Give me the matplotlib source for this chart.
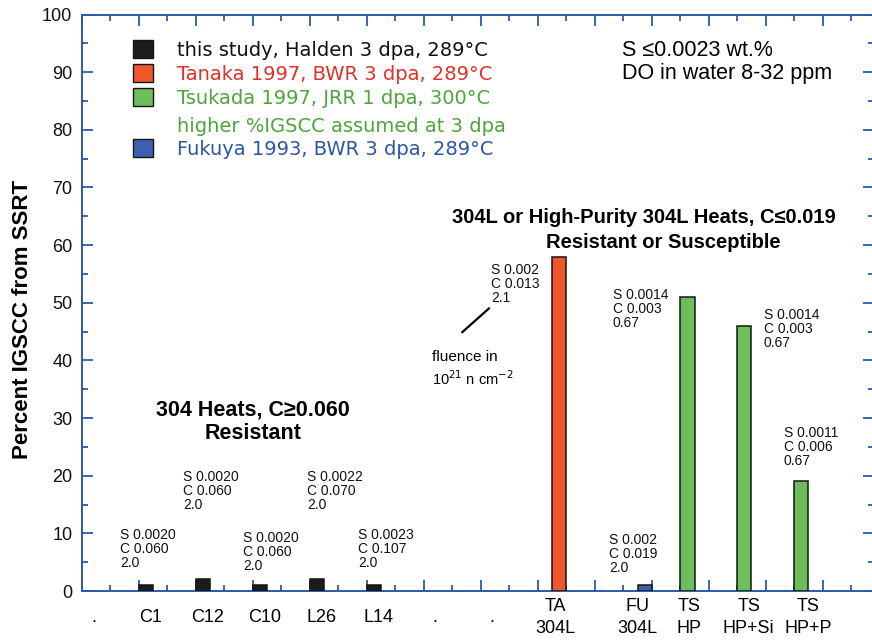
import matplotlib
matplotlib.use('Agg')
import matplotlib.pyplot as plt
from matplotlib.patches import Rectangle

plt.rcParams['font.family'] = ['Liberation Sans', 'DejaVu Sans']

# 数据
bar_names = ['C1', 'C12', 'C10', 'L26', 'L14', 'TA', 'FU', 'TS HP', 'TS HP+Si', 'TS HP+P']
igscc = [1, 2, 1, 2, 1, 58, 1, 51, 46, 19]
source = ['halden'] * 5 + ['tanaka', 'fukuya', 'tsukada', 'tsukada', 'tsukada']
s_wt = ['0.0020', '0.0020', '0.0020', '0.0022', '0.0023', '0.002', '0.002', '0.0014', '0.0014', '0.0011']
c_wt = ['0.060', '0.060', '0.060', '0.070', '0.107', '0.013', '0.019', '0.003', '0.003', '0.006']
fluence = ['2.0', '2.0', '2.0', '2.0', '2.0', '2.1', '2.0', '0.67', '0.67', '0.67']

tick_labels = ['.', 'C1', 'C12', 'C10', 'L26', 'L14', '.', '.',
               'TA\n304L', 'FU\n304L', 'TS\nHP', 'TS\nHP+Si', 'TS\nHP+P']

legend_keys = ['halden', 'tanaka', 'tsukada', None, 'fukuya']
legend_texts = ['this study, Halden 3 dpa, 289°C',
                'Tanaka 1997, BWR 3 dpa, 289°C',
                'Tsukada 1997, JRR 1 dpa, 300°C',
                'higher %IGSCC assumed at 3 dpa',
                'Fukuya 1993, BWR 3 dpa, 289°C']

# 样式 / 位置
bar_face = {'halden': '#1c1c1c', 'tanaka': '#f0552b', 'tsukada': '#6dbd5b', 'fukuya': '#3d5fb0'}
text_col = {'halden': '#111111', 'tanaka': '#e2312a', 'tsukada': '#4ea53c', 'fukuya': '#2b56a6', None: '#4ea53c'}
axis_col = '#2a5aa8'

bar_x = [2, 4, 6, 8, 10, 16.5, 19.5, 21, 23, 25]
tick_x = [0.4, 2.4, 4.4, 6.4, 8.4, 10.4, 12.4, 14.4, 16.6, 19.5, 21.3, 23.4, 25.5]
note_xy = [(1.33, 7.3), (3.54, 17.3), (5.65, 6.8), (7.89, 17.3), (9.68, 7.3),
           (14.35, 53.3), (18.49, 6.4), (18.63, 48.9), (23.93, 45.4), (24.63, 25.0)]
legend_y = [93.8, 89.6, 85.4, 80.6, 76.6]

fig = plt.figure(figsize=(8.72, 6.44), dpi=100)
ax = fig.add_axes([82 / 872, 53 / 644, 792 / 872, 576.5 / 644])

ax.bar(bar_x, igscc, width=0.5, align='edge',
       color=[bar_face[s] for s in source], edgecolor='#151515', linewidth=1.1, zorder=3)

for (x, y), s, c, f in zip(note_xy, s_wt, c_wt, fluence):
    ax.text(x, y, 'S %s\nC %s\n%s' % (s, c, f), fontsize=10, ha='left', va='center',
            linespacing=1.0, color='#111111')

# fluence 注释
ax.plot([13.35, 14.28], [44.9, 49.0], color='black', lw=1.6)
ax.text(12.27, 40.6, 'fluence in', fontsize=11, ha='left', va='center')
ax.text(12.27, 36.9, r'10$^{21}$ n cm$^{-2}$', fontsize=10.5, ha='left', va='center')

# 分组标题
ax.text(6.0, 31.4, '304 Heats, C≥0.060', fontsize=15.5, fontweight='bold', ha='center', va='center')
ax.text(6.0, 27.4, 'Resistant', fontsize=15.5, fontweight='bold', ha='center', va='center')
ax.text(19.72, 64.8, '304L or High-Purity 304L Heats, C≤0.019', fontsize=14.5,
        fontweight='bold', ha='center', va='center')
ax.text(20.39, 60.4, 'Resistant or Susceptible', fontsize=14.5, fontweight='bold',
        ha='center', va='center')

ax.text(18.95, 93.8, 'S ≤0.0023 wt.%', fontsize=15.5, ha='left', va='center')
ax.text(18.95, 89.7, 'DO in water 8-32 ppm', fontsize=15.5, ha='left', va='center')

# 图例（手动）
for key, txt, y in zip(legend_keys, legend_texts, legend_y):
    if key is not None:
        ax.add_patch(Rectangle((1.79, y - 1.3), 0.70, 3.1, facecolor=bar_face[key],
                               edgecolor='#151515', linewidth=1.0, zorder=4))
    ax.text(3.33, y, txt, fontsize=14, color=text_col[key], ha='left', va='center',
            family=['DejaVu Sans'])

# x 轴标签
for x, lab in zip(tick_x, tick_labels):
    ax.text(x, -4.6, lab, fontsize=13, ha='center', va='center', linespacing=1.45,
            transform=ax.transData, clip_on=False)

ax.set_xlim(0, 27.8)
ax.set_ylim(0, 100)
ax.set_xticks(range(0, 28, 2))
ax.set_xticks(range(1, 28, 2), minor=True)
ax.set_yticks(range(0, 101, 10))
ax.set_yticks(range(5, 100, 10), minor=True)
ax.set_xticklabels([])
ax.tick_params(axis='both', which='both', direction='in', colors=axis_col,
               top=True, right=True, width=1.3)
ax.tick_params(axis='both', which='major', length=8)
ax.tick_params(axis='both', which='minor', length=4)
ax.tick_params(axis='y', which='major', labelcolor='#111111', labelsize=13, pad=7)
for sp in ax.spines.values():
    sp.set_color(axis_col)
    sp.set_linewidth(1.4)

fig.text(23 / 872, (644 - 319) / 644, 'Percent IGSCC from SSRT', rotation=90,
         fontsize=16, fontweight='bold', ha='center', va='center')

fig.savefig('out.png', dpi=100)
